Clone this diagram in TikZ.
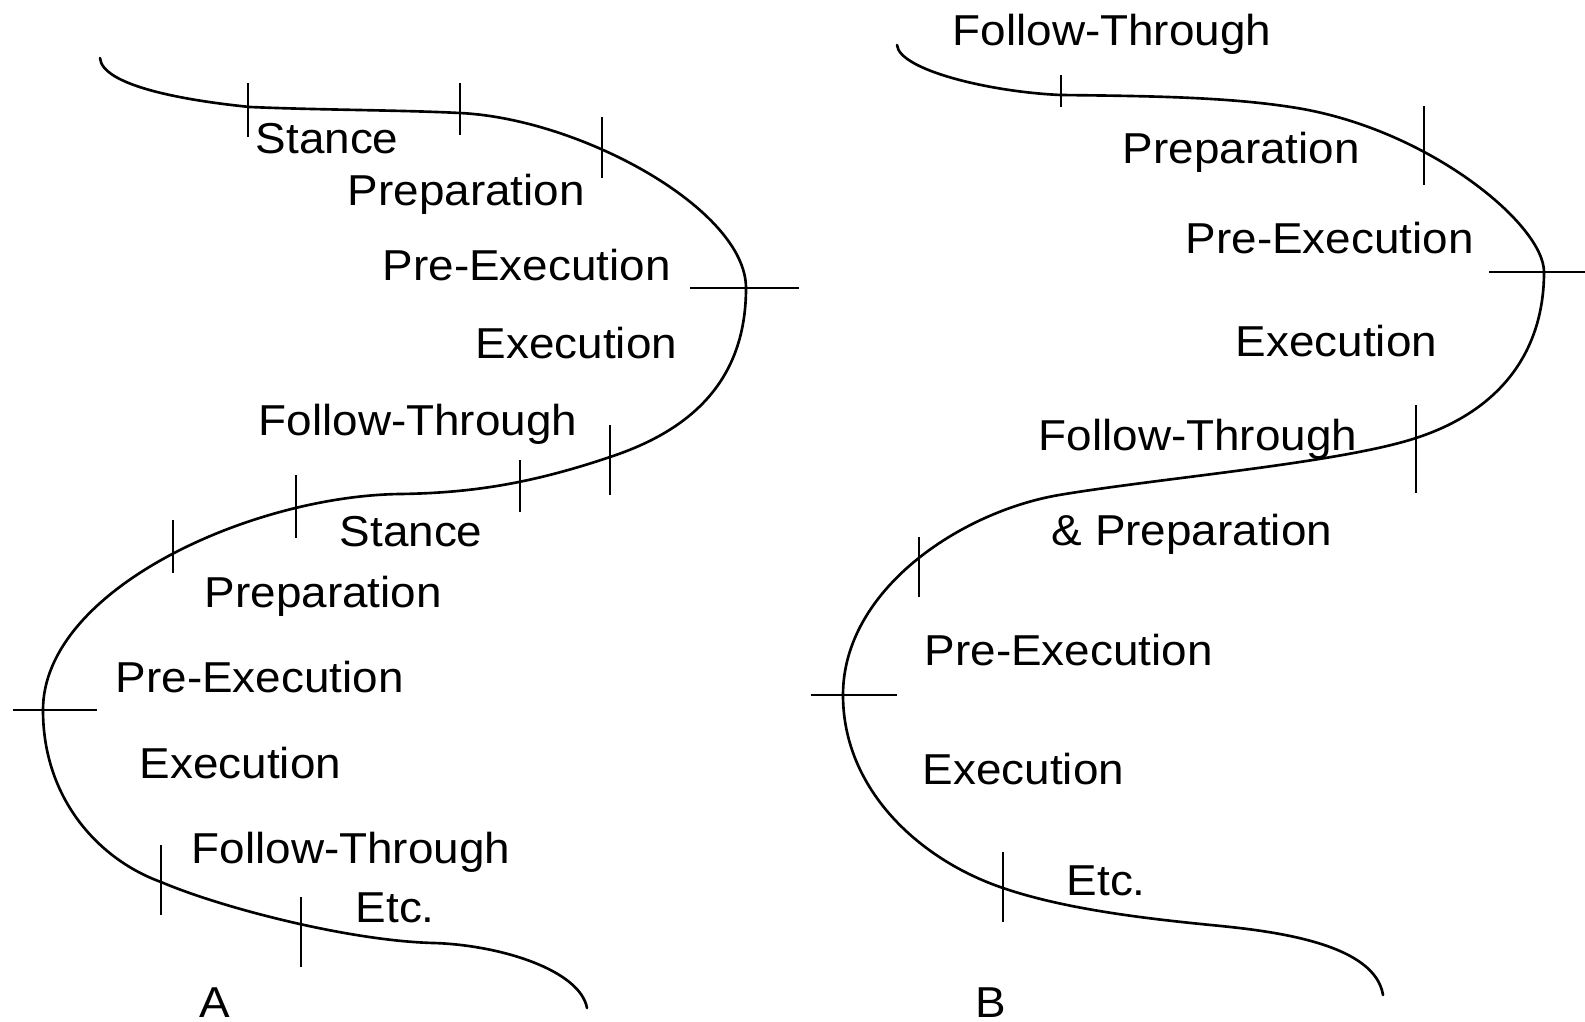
\documentclass[tikz,border=0pt]{standalone}
\usepackage{fontspec}
\setmainfont{Liberation Sans}[FakeStretch=1.06]
\begin{document}
\begin{tikzpicture}[x=0.01cm,y=-0.01cm,
  swingpath/.style={line width=0.75pt,line join=round,line cap=round},
  phasemark/.style={line width=0.65pt},
  phase/.style={anchor=base west,inner sep=0pt,font=\fontsize{12.3}{14}\selectfont},
  panel/.style={anchor=base west,inner sep=0pt,font=\fontsize{12.3}{14}\selectfont}]
\useasboundingbox (0,0) rectangle (1585,1021);

% ---------- Cycle A: separate phases ----------
\draw[swingpath] (100,58)
  .. controls (102,85) and (180,100) .. (250,107)
  .. controls (320,110) and (400,110) .. (460,113)
  .. controls (582,119) and (746,210) .. (746,288)
  .. controls (746,380) and (692,430) .. (610,457)
  .. controls (530,484) and (470,493) .. (400,494)
  .. controls (250,496) and (43,590) .. (43,710)
  .. controls (43,800) and (100,860) .. (161,882)
  .. controls (222,908) and (350,941) .. (434,943)
  .. controls (500,945) and (580,970) .. (587,1008);

\draw[phasemark] (248,83) -- (248,137);
\draw[phasemark] (460,83) -- (460,135);
\draw[phasemark] (602,117) -- (602,178);
\draw[phasemark] (690,288) -- (799,288);
\draw[phasemark] (610,425) -- (610,495);
\draw[phasemark] (520,460) -- (520,512);
\draw[phasemark] (296,475) -- (296,538);
\draw[phasemark] (173,520) -- (173,573);
\draw[phasemark] (13,710) -- (97,710);
\draw[phasemark] (161,845) -- (161,915);
\draw[phasemark] (301,897) -- (301,967);

\node[phase] (a1) at (255,153) {Stance};
\node[phase] (a2) at (347,205) {Preparation};
\node[phase] (a3) at (382,280) {Pre-Execution};
\node[phase] (a4) at (475,358) {Execution};
\node[phase] (a5) at (258,435) {Follow-Through};
\node[phase] (a6) at (339,546) {Stance};
\node[phase] (a7) at (204,607) {Preparation};
\node[phase] (a8) at (115,692) {Pre-Execution};
\node[phase] (a9) at (139,778) {Execution};
\node[phase] (a10) at (191,863) {Follow-Through};
\node[phase] (a11) at (355,922) {Etc.};
\node[panel] (la) at (199,1017) {A};

% ---------- Cycle B: overlapping phases ----------
\draw[swingpath] (897,45)
  .. controls (899,70) and (990,92) .. (1061,95)
  .. controls (1150,96) and (1230,97) .. (1297,108)
  .. controls (1430,130) and (1544,225) .. (1544,272)
  .. controls (1544,350) and (1502,410) .. (1416,438)
  .. controls (1340,463) and (1160,478) .. (1059,495)
  .. controls (960,512) and (843,590) .. (843,695)
  .. controls (843,790) and (920,860) .. (1003,888)
  .. controls (1070,911) and (1160,920) .. (1221,926)
  .. controls (1280,932) and (1375,945) .. (1383,995);

\draw[phasemark] (1061,75) -- (1061,107);
\draw[phasemark] (1424,106) -- (1424,185);
\draw[phasemark] (1489,272) -- (1585,272);
\draw[phasemark] (1416,405) -- (1416,493);
\draw[phasemark] (919,537) -- (919,597);
\draw[phasemark] (811,695) -- (897,695);
\draw[phasemark] (1003,852) -- (1003,922);

\node[phase] (b1) at (952,45) {Follow-Through};
\node[phase] (b2) at (1122,163) {Preparation};
\node[phase] (b3) at (1185,253) {Pre-Execution};
\node[phase] (b4) at (1235,356) {Execution};
\node[phase] (b5) at (1038,450) {Follow-Through};
\node[phase] (b6) at (1051,545) {\& Preparation};
\node[phase] (b7) at (924,665) {Pre-Execution};
\node[phase] (b8) at (922,784) {Execution};
\node[phase] (b9) at (1066,895) {Etc.};
\node[panel] (lb) at (975,1017) {B};
\end{tikzpicture}
\end{document}
